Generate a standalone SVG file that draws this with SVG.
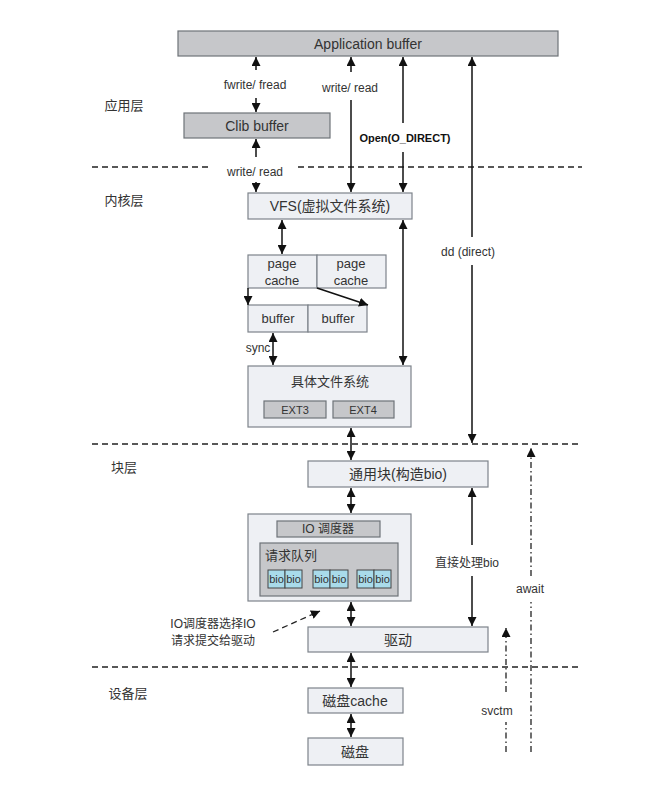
<svg xmlns="http://www.w3.org/2000/svg" width="664" height="791" viewBox="0 0 664 791">
<style>
text{font-family:"Liberation Sans","Noto Sans CJK SC",sans-serif;fill:#333;text-anchor:middle;dominant-baseline:central}
.lt{fill:#eef0f4;stroke:#7d838a;stroke-width:1.2}
.gr{fill:#c6c7ca;stroke:#6e7378;stroke-width:1.2}
.bio{fill:#a9dbea;stroke:#444;stroke-width:1}
.ln{stroke:#111;stroke-width:1.5;fill:none}
.dash{stroke:#222;stroke-width:1.3;stroke-dasharray:6 4;fill:none}
.dd{stroke:#222;stroke-width:1.3;stroke-dasharray:6 3 1.5 3;fill:none}
.f12{font-size:12px}.f13{font-size:13px}.f14{font-size:14px}.f11{font-size:11px}.f10{font-size:10px}
</style>
<defs>
<marker id="ah" viewBox="0 0 10 10" refX="10" refY="5" markerWidth="9" markerHeight="9" markerUnits="userSpaceOnUse" orient="auto-start-reverse">
<path d="M0,0 L10,5 L0,10 z" fill="#111"/>
</marker>
</defs>
<rect width="664" height="791" fill="#fff"/>

<g id="layers">
<line class="dash" x1="92" y1="167" x2="210" y2="167"/>
<line class="dash" x1="298" y1="167" x2="582" y2="167"/>
<line class="dash" x1="92" y1="444" x2="582" y2="444"/>
<line class="dash" x1="92" y1="667" x2="582" y2="667"/>
<text class="f13" x="124" y="105">应用层</text>
<text class="f13" x="124" y="200">内核层</text>
<text class="f13" x="124" y="467">块层</text>
<text class="f13" x="128" y="693">设备层</text>
</g>

<g id="app-buffer"><rect class="gr" x="178" y="31" width="380" height="25"/><text class="f14" x="368" y="44">Application buffer</text></g>
<g id="clib-buffer"><rect class="gr" x="184" y="113" width="146" height="25"/><text class="f14" x="257" y="126">Clib buffer</text></g>
<g id="vfs"><rect class="lt" x="248" y="193" width="164" height="26"/><text class="f14" x="330" y="206">VFS(虚拟文件系统)</text></g>
<g id="page-cache-1"><rect class="lt" x="248" y="255" width="69" height="33"/><text class="f13" x="282" y="263">page</text><text class="f13" x="282" y="280">cache</text></g>
<g id="page-cache-2"><rect class="lt" x="317" y="255" width="69" height="33"/><text class="f13" x="351" y="263">page</text><text class="f13" x="351" y="280">cache</text></g>
<g id="buffer-1"><rect class="lt" x="248" y="305" width="60" height="27"/><text class="f13" x="278" y="318">buffer</text></g>
<g id="buffer-2"><rect class="lt" x="308" y="305" width="59" height="27"/><text class="f13" x="338" y="318">buffer</text></g>
<g id="fs"><rect class="lt" x="248" y="366" width="163" height="61"/><text class="f13" x="330" y="381">具体文件系统</text>
<rect class="gr" x="264" y="401" width="62" height="17"/><text class="f11" x="295" y="409.5">EXT3</text>
<rect class="gr" x="333" y="401" width="61" height="17"/><text class="f11" x="363" y="409.5">EXT4</text></g>
<g id="generic-block"><rect class="lt" x="308" y="461" width="180" height="26"/><text class="f14" x="398" y="474">通用块(构造bio)</text></g>
<g id="io-scheduler"><rect class="lt" x="248" y="514" width="163" height="87"/>
<rect class="gr" x="277" y="521" width="103" height="16"/><text class="f12" x="328" y="529">IO 调度器</text>
<rect class="gr" x="260" y="543" width="138" height="53"/><text class="f13" x="291" y="555">请求队列</text>
<rect class="bio" x="268" y="570" width="17" height="18"/><rect class="bio" x="285" y="570" width="17" height="18"/>
<rect class="bio" x="313" y="570" width="17" height="18"/><rect class="bio" x="330" y="570" width="18" height="18"/>
<rect class="bio" x="357" y="570" width="17" height="18"/><rect class="bio" x="374" y="570" width="17" height="18"/>
<text class="f11" x="276.5" y="579">bio</text><text class="f11" x="293.5" y="579">bio</text>
<text class="f11" x="321.5" y="579">bio</text><text class="f11" x="339" y="579">bio</text>
<text class="f11" x="365.5" y="579">bio</text><text class="f11" x="382.5" y="579">bio</text></g>
<g id="driver"><rect class="lt" x="308" y="627" width="180" height="25"/><text class="f14" x="398" y="640">驱动</text></g>
<g id="disk-cache"><rect class="lt" x="308" y="688" width="95" height="25"/><text class="f14" x="355" y="701">磁盘cache</text></g>
<g id="disk"><rect class="lt" x="308" y="738" width="95" height="27"/><text class="f14" x="355" y="752">磁盘</text></g>

<g id="connectors">
<line class="ln" x1="256" y1="70" x2="256" y2="57" marker-end="url(#ah)"/>
<text class="f12" x="255" y="85">fwrite/ fread</text>
<line class="ln" x1="256" y1="98" x2="256" y2="112" marker-end="url(#ah)"/>
<line class="ln" x1="256" y1="157" x2="256" y2="139" marker-end="url(#ah)"/>
<text class="f12" x="255" y="172">write/ read</text>
<line class="ln" x1="256" y1="182" x2="256" y2="192" marker-end="url(#ah)"/>
<line class="ln" x1="351" y1="72" x2="351" y2="57" marker-end="url(#ah)"/>
<text class="f12" x="350" y="88">write/ read</text>
<line class="ln" x1="351" y1="100" x2="351" y2="192" marker-end="url(#ah)"/>
<line class="ln" x1="403" y1="123" x2="403" y2="57" marker-end="url(#ah)"/>
<text class="f11" x="405" y="138" style="font-weight:bold;fill:#111">Open(O_DIRECT)</text>
<line class="ln" x1="403" y1="152" x2="403" y2="192" marker-end="url(#ah)"/>
<line class="ln" x1="472" y1="237" x2="472" y2="57" marker-end="url(#ah)"/>
<text class="f12" x="468" y="252">dd (direct)</text>
<line class="ln" x1="472" y1="265" x2="472" y2="443" marker-end="url(#ah)"/>
<line class="ln" x1="282" y1="220" x2="282" y2="254" marker-start="url(#ah)" marker-end="url(#ah)"/>
<line class="ln" x1="248" y1="288" x2="248" y2="305" marker-end="url(#ah)"/>
<line class="ln" x1="317" y1="288" x2="368" y2="305" marker-end="url(#ah)"/>
<line class="ln" x1="273" y1="333" x2="273" y2="365" marker-start="url(#ah)" marker-end="url(#ah)"/>
<text class="f12" x="258" y="348">sync</text>
<line class="ln" x1="403" y1="220" x2="403" y2="365" marker-start="url(#ah)" marker-end="url(#ah)"/>
<line class="ln" x1="351" y1="428" x2="351" y2="460" marker-start="url(#ah)" marker-end="url(#ah)"/>
<line class="ln" x1="351" y1="488" x2="351" y2="513" marker-start="url(#ah)" marker-end="url(#ah)"/>
<line class="ln" x1="351" y1="602" x2="351" y2="626" marker-start="url(#ah)" marker-end="url(#ah)"/>
<line class="ln" x1="472" y1="545" x2="472" y2="488" marker-end="url(#ah)"/>
<text class="f12" x="467" y="563">直接处理bio</text>
<line class="ln" x1="472" y1="576" x2="472" y2="626" marker-end="url(#ah)"/>
<line class="dash" x1="273" y1="632" x2="320" y2="611" marker-end="url(#ah)"/>
<text class="f12" x="213" y="624">IO调度器选择IO</text>
<text class="f12" x="213" y="641">请求提交给驱动</text>
<line class="ln" x1="351" y1="653" x2="351" y2="687" marker-start="url(#ah)" marker-end="url(#ah)"/>
<line class="ln" x1="351" y1="714" x2="351" y2="737" marker-start="url(#ah)" marker-end="url(#ah)"/>
<line class="dd" x1="531" y1="752" x2="531" y2="602"/>
<line class="dd" x1="531" y1="576" x2="531" y2="448" marker-end="url(#ah)"/>
<text class="f12" x="530" y="589">await</text>
<line class="dd" x1="506" y1="752" x2="506" y2="722"/>
<line class="dd" x1="506" y1="692" x2="506" y2="628" marker-end="url(#ah)"/>
<text class="f12" x="497" y="711">svctm</text>
</g>
</svg>
